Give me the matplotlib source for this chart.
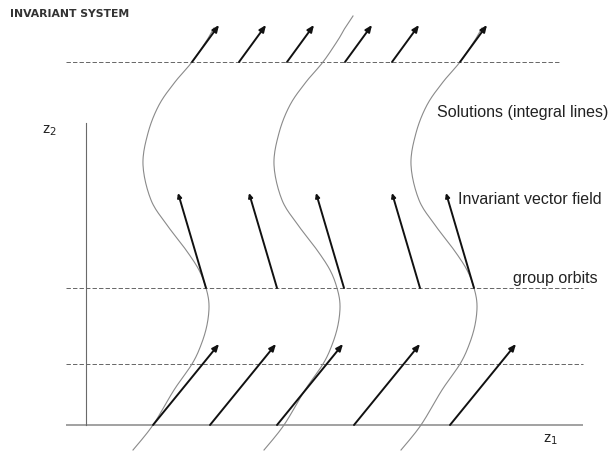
import matplotlib.pyplot as plt
import numpy as np
from matplotlib import rcParams

rcParams['font.family'] = ['Liberation Sans', 'DejaVu Sans']

# diagram coordinates in pixels, y grows downwards
orbit_levels = [62, 288, 364]
orbit_ends = [560, 583, 583]

# invariant vector field: (start x) on each orbit, common direction per row
top_x0 = [192, 239, 287, 345, 392, 460]
top_y0, top_dx, top_dy = 62, 27, -37
mid_x0 = [206, 277, 344, 420, 474]
mid_y0, mid_dx, mid_dy = 288, -28, -95
bot_x0 = [153, 210, 277, 354, 450]
bot_y0, bot_dx, bot_dy = 425, 66, -81

# one solution curve (integral line); the others are its translates
sol_y = [16, 28, 40, 62, 82, 105, 133, 165, 200, 225, 250, 270,
         288, 305, 325, 345, 364, 390, 425, 450]
sol_x = [222, 214, 207, 192, 175, 159, 148, 143, 151, 167, 186, 199,
         206, 209, 207, 201, 192, 174, 153, 133]
sol_shift = [0, 131, 268]
sol_top = [28, 16, 28]


def smooth(xs, ys, n=12):
    # Catmull-Rom pass through the control points so the line bends smoothly
    p = np.column_stack([xs, ys]).astype(float)
    p = np.vstack([p[0], p, p[-1]])
    t = np.linspace(0, 1, n, endpoint=False)[:, None]
    out = []
    for i in range(1, len(p) - 2):
        p0, p1, p2, p3 = p[i - 1], p[i], p[i + 1], p[i + 2]
        out.append(0.5 * (2 * p1 + (-p0 + p2) * t
                          + (2 * p0 - 5 * p1 + 4 * p2 - p3) * t ** 2
                          + (-p0 + 3 * p1 - 3 * p2 + p3) * t ** 3))
    out.append(p[-2][None, :])
    out = np.vstack(out)
    return out[:, 0], out[:, 1]


fig = plt.figure(figsize=(6.14, 4.53), dpi=100)
ax = fig.add_axes([0, 0, 1, 1])
ax.set_xlim(0, 614)
ax.set_ylim(453, 0)
ax.axis('off')

# coordinate axes
ax.plot([66, 583], [425, 425], color='#9a9a9a', lw=1.3, solid_capstyle='butt')
ax.plot([86, 86], [123, 425], color='#6a6a6a', lw=0.8)

# group orbits
for y, x1 in zip(orbit_levels, orbit_ends):
    ax.plot([66, x1], [y, y], color='#666666', lw=0.7, dashes=(4.5, 2.2))

# solutions
sy = np.array(sol_y)
sx = np.array(sol_x)
for shift, top in zip(sol_shift, sol_top):
    keep = sy >= top
    cx, cy = smooth(sx[keep] + shift, sy[keep])
    ax.plot(cx, cy, color='#8a8a8a', lw=0.8)


def draw_arrows(xs, y0, dx, dy, head):
    for x in xs:
        ax.annotate('', xy=(x + dx, y0 + dy), xytext=(x, y0),
                    arrowprops=dict(arrowstyle=head, color='#111111', lw=1.4,
                                    shrinkA=0, shrinkB=0))


draw_arrows(top_x0, top_y0, top_dx, top_dy, '-|>,head_length=0.4,head_width=0.17')
draw_arrows(mid_x0, mid_y0, mid_dx, mid_dy, '-|>,head_length=0.25,head_width=0.12')
draw_arrows(bot_x0, bot_y0, bot_dx, bot_dy, '-|>,head_length=0.4,head_width=0.17')

# labels
ax.text(10, 14, 'INVARIANT SYSTEM', fontsize=7.8, fontweight='bold',
        family='DejaVu Sans', color='#333333', va='center', ha='left')
ax.text(437, 113, 'Solutions (integral lines)', fontsize=11.5, color='#222222',
        va='center', ha='left')
ax.text(458, 199, 'Invariant vector field', fontsize=11.5, color='#222222',
        va='center', ha='left')
ax.text(513, 279, 'group orbits', fontsize=11.5, color='#222222',
        va='center', ha='left')
ax.text(543, 440, r'z$_1$', fontsize=10.5, color='#222222', va='center', ha='left')
ax.text(42, 131, r'z$_2$', fontsize=10.5, color='#222222', va='center', ha='left')

fig.savefig('out.png', dpi=100)
